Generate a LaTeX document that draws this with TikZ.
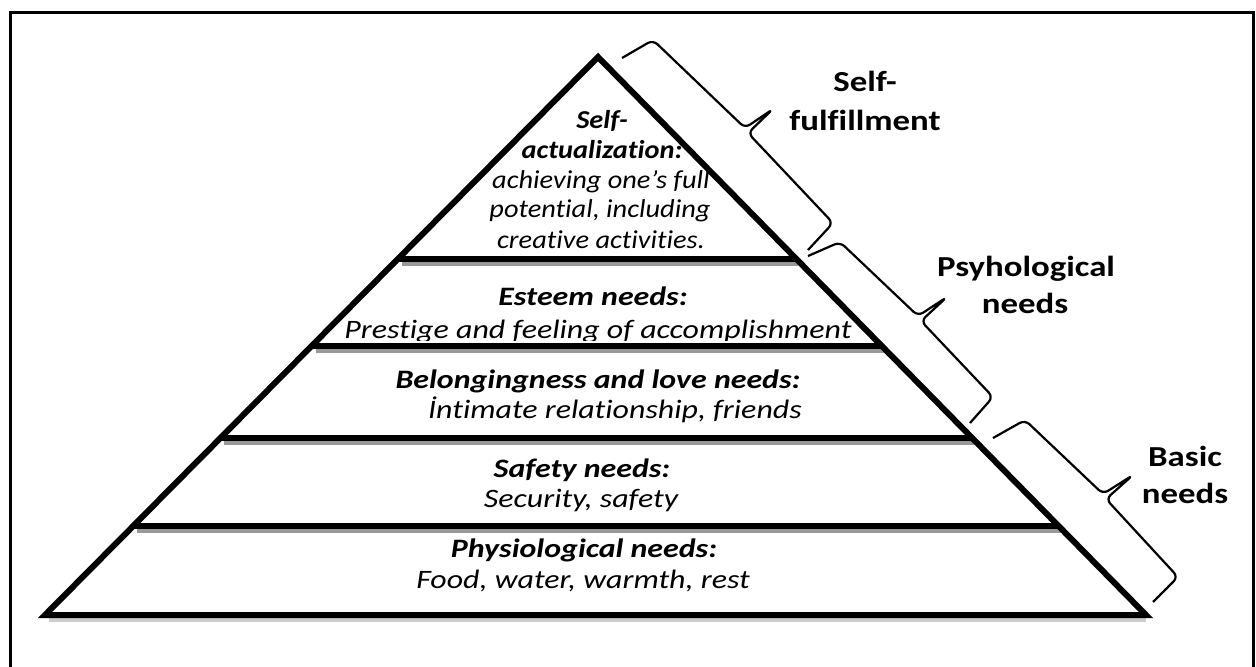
\documentclass[tikz,border=0pt]{standalone}
\usepackage{fontspec}
\setmainfont{Carlito}[FakeStretch=1.2, Ligatures={NoCommon,NoContextual}, Contextuals=NoAlternate]
\newfontfamily\topfont{Carlito}[FakeStretch=1.1, Ligatures={NoCommon,NoContextual}, Contextuals=NoAlternate]
\usetikzlibrary{calc}
\begin{document}
\begin{tikzpicture}[x=0.5pt,y=-0.5pt,
  tiertitle/.style={font=\fontsize{13.3}{15}\selectfont\bfseries\itshape, anchor=base, inner sep=0pt},
  tiertext/.style={font=\fontsize{13.3}{15}\selectfont\itshape, anchor=base, inner sep=0pt},
  toptitle/.style={font=\topfont\fontsize{12.9}{15}\selectfont\bfseries\itshape, anchor=base, inner sep=0pt},
  toptext/.style={font=\topfont\fontsize{12.9}{15}\selectfont\itshape, anchor=base, inner sep=0pt},
  sidelabel/.style={font=\fontsize{14.5}{19}\selectfont\bfseries, anchor=base, inner sep=0pt},
  pyrline/.style={line width=3pt, line join=miter, line cap=butt},
  shadowline/.style={line width=1.8pt, color=black!40},
  bracepath/.style={line width=1.1pt, rounded corners=3pt, line join=round},
  frameline/.style={line width=1.5pt}]
\useasboundingbox (0,0) rectangle (1256,666);
\clip (0,0) rectangle (1256,666);
% frame
\draw[frameline] (10,700) -- (10,12.5) -- (1253.5,12.5) -- (1253.5,700);
% pyramid coordinates
\coordinate (apex) at (598,57);
\coordinate (bl) at (45,615);
\coordinate (br) at (1146,615);
\coordinate (l1) at ($(apex)!0.362!(bl)$);
\coordinate (r1) at ($(apex)!0.362!(br)$);
\coordinate (l2) at ($(apex)!0.518!(bl)$);
\coordinate (r2) at ($(apex)!0.518!(br)$);
\coordinate (l3) at ($(apex)!0.683!(bl)$);
\coordinate (r3) at ($(apex)!0.683!(br)$);
\coordinate (l4) at ($(apex)!0.8405!(bl)$);
\coordinate (r4) at ($(apex)!0.8405!(br)$);
% shadows
\foreach \i in {1,2,3,4}{
  \draw[shadowline] ([shift={(4,5)}]l\i) -- ([shift={(2,5)}]r\i);
}
\draw[shadowline, color=black!20] ([shift={(4,5)}]bl) -- ([shift={(0,5)}]br);
% pyramid
\draw[pyrline] (bl) -- (apex) -- (br) -- cycle;
\foreach \i in {1,2,3,4}{
  \draw[pyrline] (l\i) -- (r\i);
}
% texts
\node[toptitle] (sa1) at (602,128) {Self-};
\node[toptitle] (sa2) at (602,158) {actualization:};
\node[toptext] (sa3) at (601,188) {achieving one’s full};
\node[toptext] (sa4) at (600,217) {potential, including};
\node[toptext] (sa5) at (601,248) {creative activities.};
\node[tiertitle] (es1) at (593,305) {Esteem needs:};
\begin{scope}
  \clip (300,250) rectangle (900,340.5);
  \node[tiertext] (es2) at (598,338) {Prestige and feeling of accomplishment};
\end{scope}
\node[tiertitle] (be1) at (598,388) {Belongingness and love needs:};
\node[tiertext] (be2) at (615,418) {İntimate relationship, friends};
\node[tiertitle] (sf1) at (582,477) {Safety needs:};
\node[tiertext] (sf2) at (581,507) {Security, safety};
\node[tiertitle] (ph1) at (584,557) {Physiological needs:};
\node[tiertext] (ph2) at (583,588) {Food, water, warmth, rest};
% braces
\draw[bracepath] (622,58) -- (653,40) -- (745,128) -- (773,109) -- (748,133) -- (833,223) -- (808,250);
\draw[bracepath] (808,256) -- (840,242) -- (918,316) -- (947,297) -- (921,321) -- (993,397) -- (970,423);
\draw[bracepath] (993,438) -- (1025,420) -- (1103,494) -- (1133,475) -- (1106,499) -- (1178,577) -- (1153,602);
% side labels
\node[sidelabel] (lab1a) at (865,91) {Self-};
\node[sidelabel] (lab1b) at (865,130) {fulfillment};
\node[sidelabel] (lab2a) at (1026,276) {Psyhological};
\node[sidelabel] (lab2b) at (1025,313) {needs};
\node[sidelabel] (lab3a) at (1185,466) {Basic};
\node[sidelabel] (lab3b) at (1185,503) {needs};
\end{tikzpicture}
\end{document}
